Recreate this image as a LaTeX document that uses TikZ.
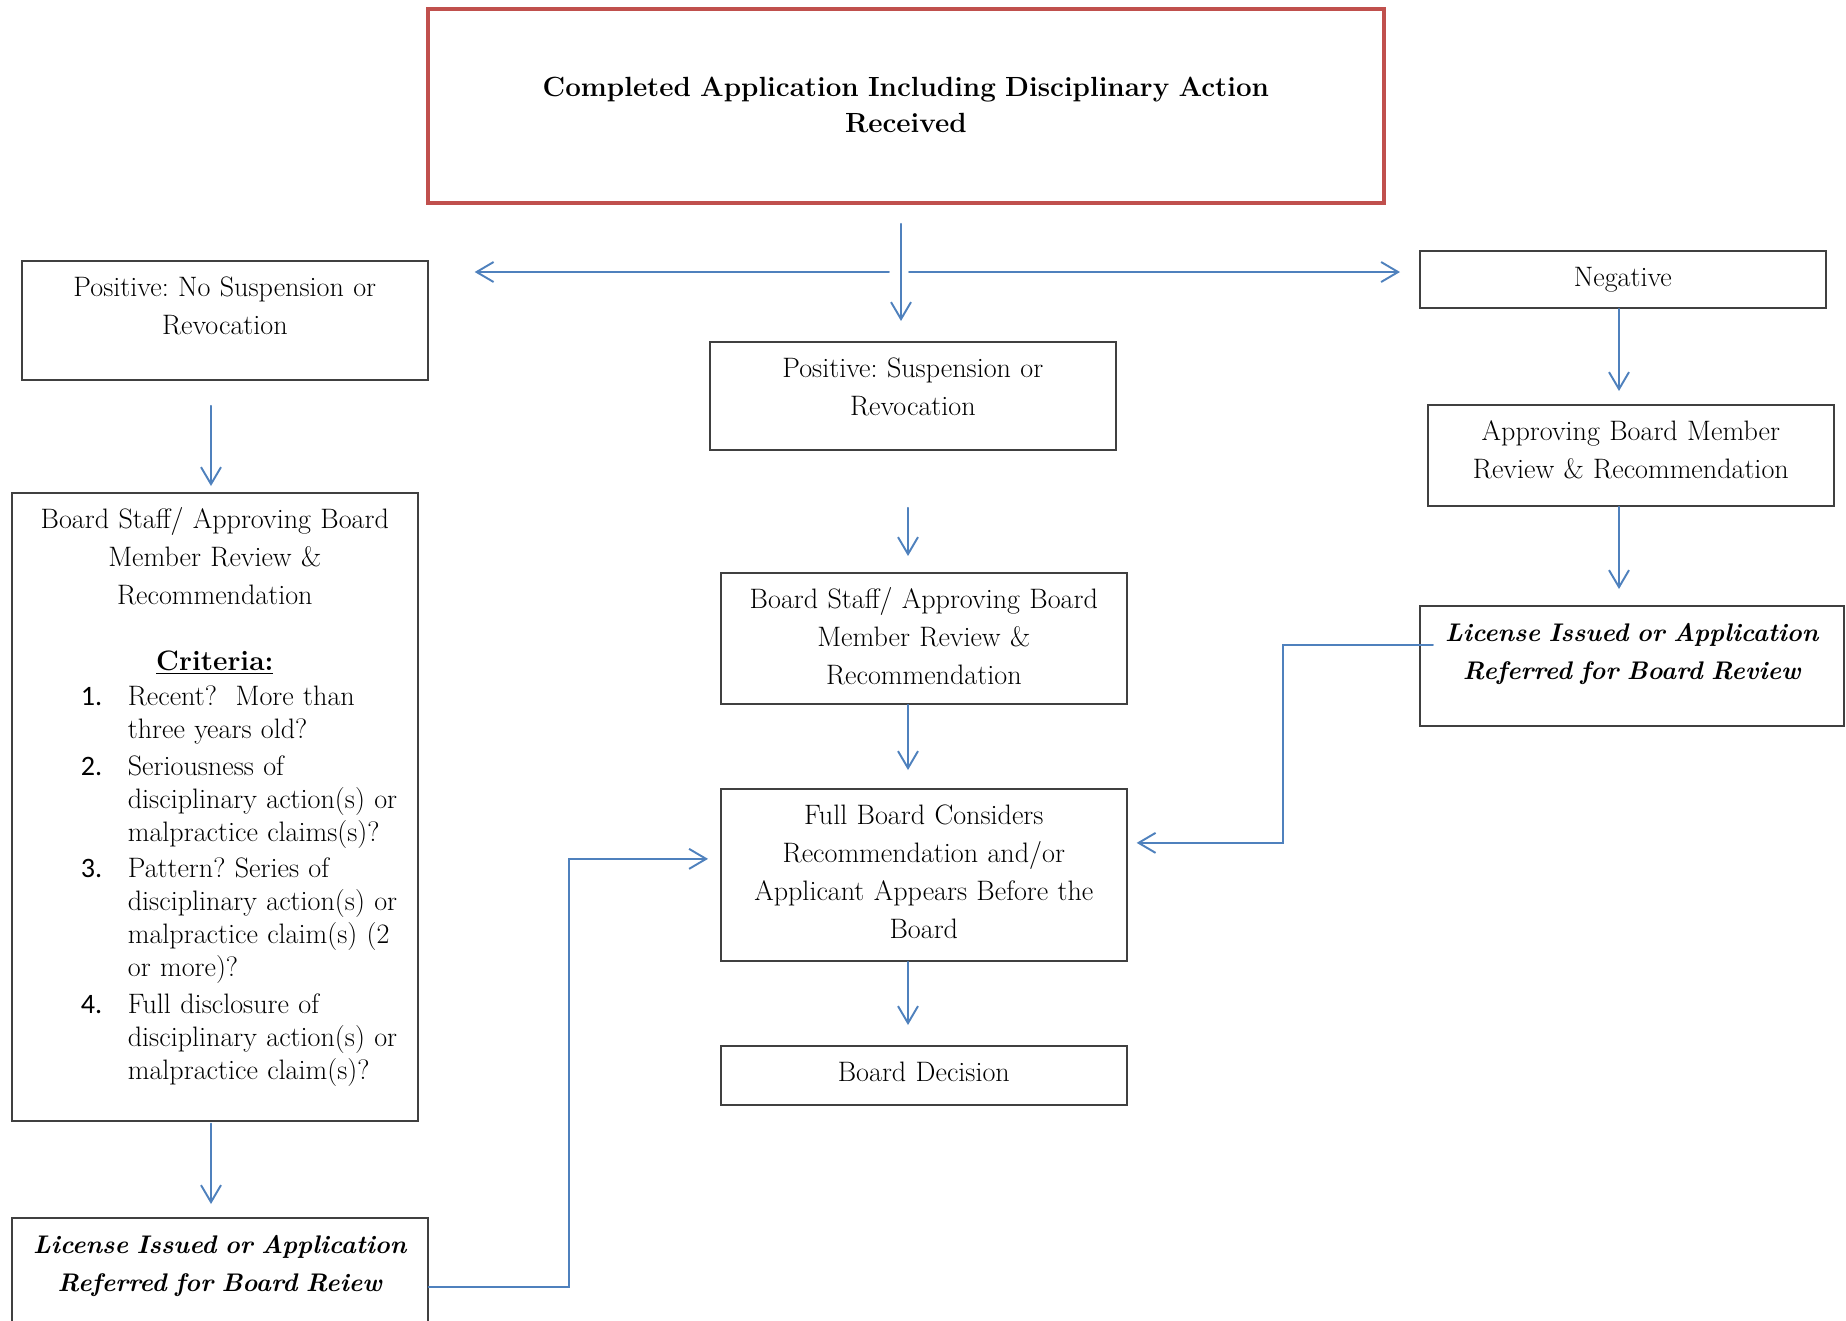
\documentclass[tikz,border=0pt]{standalone}
\usepackage{fontspec}
\newfontfamily\numfont{Carlito}
\usetikzlibrary{arrows.meta}
\definecolor{flowblue}{HTML}{4F81BD}
\definecolor{titlered}{HTML}{C0504D}
\definecolor{boxgray}{HTML}{404040}
\frenchspacing
\begin{document}
\begin{tikzpicture}[x=0.02cm,y=-0.02cm,line cap=round,
	box/.style={draw=boxgray,line width=1pt,inner sep=0pt,align=center,anchor=north west,text height=0.71cm,font=\fontsize{16}{21.6}\selectfont},
	verdict/.style={box,font=\fontsize{14.5}{21.6}\selectfont\bfseries\itshape},
	arr/.style={draw=flowblue,line width=1.1pt,-{Straight Barb[length=0.34cm,width=0.4cm]}}]
	\useasboundingbox (0,0) rectangle (1846,1320);
	\node[box,draw=titlered,line width=2.2pt,text width=19.12cm,text height=1.76cm,text depth=2.12cm,font=\fontsize{15.8}{20}\selectfont\bfseries] (appl) at (426,7) {Completed Application Including Disciplinary Action\\Received};
	\node[box,text width=8.12cm,text depth=1.67cm] (nosusp) at (21,260) {Positive: No Suspension or\\Revocation};
	\node[box,text width=8.12cm,text depth=1.45cm] (susp) at (709,341) {Positive: Suspension or\\Revocation};
	\node[box,text width=8.12cm,text depth=0.43cm] (neg) at (1419,250) {Negative};
	\node[box,text width=8.12cm,text depth=11.85cm] (staffl) at (11,492) {Board Staff/ Approving Board\\Member Review \&\\Recommendation\\[0.57cm]
		\textbf{\underline{Criteria:}}\\[-0.06cm]
		\makebox[\linewidth][l]{\hspace*{1.38cm}\fontsize{16}{18.8}\selectfont
		\begin{tabular}[t]{@{}p{0.94cm}@{}l@{}}
			{\numfont 1.} & Recent?\ \ More than\\
			& three years old?\\[2pt]
			{\numfont 2.} & Seriousness of\\
			& disciplinary action(s) or\\
			& malpractice claims(s)?\\[2pt]
			{\numfont 3.} & Pattern? Series of\\
			& disciplinary action(s) or\\
			& malpractice claim(s) (2\\
			& or more)?\\[2pt]
			{\numfont 4.} & Full disclosure of\\
			& disciplinary action(s) or\\
			& malpractice claim(s)?
		\end{tabular}}};
	\node[verdict,text width=8.32cm,text depth=1.55cm] (issuedl) at (11,1217) {License Issued or Application\\Referred for Board Reiew};
	\node[box,text width=8.12cm,text depth=1.91cm] (staffm) at (720,572) {Board Staff/ Approving Board\\Member Review \&\\Recommendation};
	\node[box,text width=8.12cm,text depth=2.73cm] (full) at (720,788) {Full Board Considers\\Recommendation and/or\\Applicant Appears Before the\\Board};
	\node[box,text width=8.12cm,text depth=0.47cm] (decision) at (720,1045) {Board Decision};
	\node[box,text width=8.12cm,text depth=1.31cm] (approver) at (1427,404) {Approving Board Member\\Review \& Recommendation};
	\node[verdict,text width=8.48cm,text depth=1.69cm] (issuedr) at (1419,605) {License Issued or Application\\Referred for Board Review};
	\coordinate (split) at (901,272);
	\coordinate (lcol) at (211,0);
	\coordinate (mcol) at (908,0);
	\coordinate (rcol) at (1619,0);
	\draw[arr,shorten <=0.38cm,shorten >=0.4cm] (appl.south -| split) -- (susp.north -| split);
	\draw[arr,shorten >=0.92cm] ([xshift=-0.24cm]split) -- (nosusp.east |- split);
	\draw[arr,shorten >=0.38cm] ([xshift=0.16cm]split) -- (neg.west |- split);
	\draw[arr,shorten <=0.5cm,shorten >=0.12cm] (nosusp.south -| lcol) -- (staffl.north -| lcol);
	\draw[arr,shorten <=0.04cm,shorten >=0.26cm] (staffl.south -| lcol) -- (issuedl.north -| lcol);
	\draw[arr,shorten <=1.14cm,shorten >=0.32cm] (susp.south -| mcol) -- (staffm.north -| mcol);
	\draw[arr,shorten >=0.36cm] (staffm.south -| mcol) -- (full.north -| mcol);
	\draw[arr,shorten >=0.4cm] (full.south -| mcol) -- (decision.north -| mcol);
	\draw[arr,shorten >=0.26cm] (neg.south -| rcol) -- (approver.north -| rcol);
	\draw[arr,shorten >=0.32cm] (approver.south -| rcol) -- (issuedr.north -| rcol);
	\draw[arr,shorten >=0.18cm] ([xshift=0.28cm,yshift=0.42cm]issuedr.west) -- ++(-150,0) |- ([yshift=0.64cm]full.east);
	\draw[arr,shorten >=0.24cm] ([yshift=-0.25cm]issuedl.east) -- ++(140,0) |- ([yshift=0.32cm]full.west);
\end{tikzpicture}
\end{document}
